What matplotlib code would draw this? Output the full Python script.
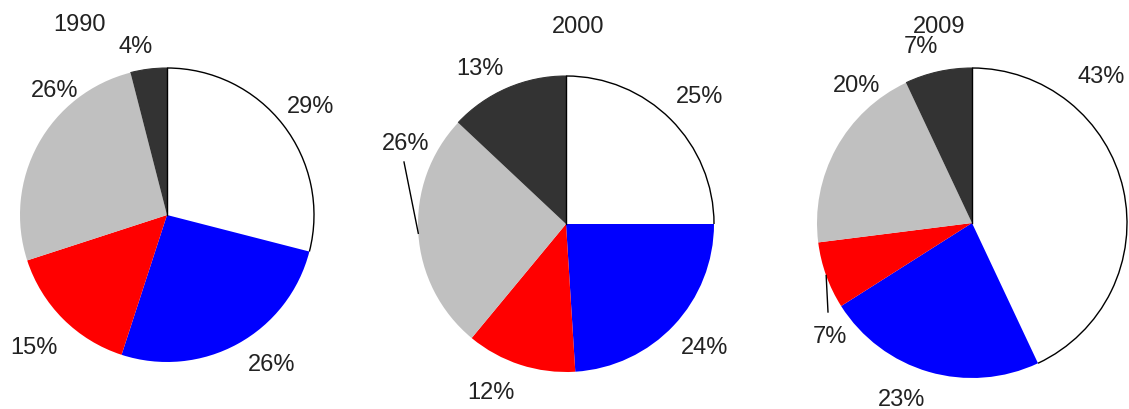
import matplotlib.pyplot as plt
from matplotlib.patches import Arc
import numpy as np

plt.rcParams['font.family'] = ['Liberation Sans', 'DejaVu Sans']

years = ["1990", "2000", "2009"]
# slice order, clockwise from 12 o'clock: white, blue, red, grey, black
shares_1990 = [29, 26, 15, 26, 4]
shares_2000 = [25, 24, 12, 26, 13]
shares_2009 = [43, 23, 7, 20, 7]
all_shares = [shares_1990, shares_2000, shares_2009]

colors = ["#ffffff", "#0000ff", "#ff0000", "#c0c0c0", "#333333"]

W, H = 1129, 410
# layout in pixels (y measured from top)
centers = [(167, 216), (566, 225), (972, 224)]
radii = [147, 148, 155]
title_pos = [(79, 25), (578, 27), (939, 27)]
label_pos = [
    [(311, 107), (272, 365), (34, 348), (55, 91), (136, 47)],
    [(700, 97), (705, 348), (491, 393), (406, 144), (480, 69)],
    [(1101, 77), (902, 400), (830, 337), (857, 86), (921, 47)],
]
# which slice gets a leader line (pie index, slice index)
leaders = [(1, 3), (2, 2)]

fig = plt.figure(figsize=(W / 100, H / 100), dpi=100)
ax = fig.add_axes([0, 0, 1, 1])

txt_color = "#222222"
for i, shares in enumerate(all_shares):
    cx, cy = centers[i]
    wedges, texts = ax.pie(shares, colors=colors, startangle=90, counterclock=False,
                           center=(cx, H - cy), radius=radii[i], frame=True,
                           labels=[f"{v}%" for v in shares],
                           wedgeprops=dict(linewidth=0),
                           textprops=dict(fontsize=17, color=txt_color))
    for t, (lx, ly) in zip(texts, label_pos[i]):
        t.set_position((lx, H - ly))
        t.set_ha("center")
        t.set_va("center")
    # thin black outline along the white slice's rim
    w = wedges[0]
    ax.add_patch(Arc(w.center, 2 * w.r, 2 * w.r, theta1=w.theta1, theta2=w.theta2,
                     color="black", lw=1.0, zorder=3))
    wb = wedges[4]
    ax.add_patch(Arc(wb.center, 2 * wb.r, 2 * wb.r, theta1=wb.theta1, theta2=wb.theta2,
                     color="#333333", lw=0.8, zorder=3))
    # vertical line from centre to 12 o'clock
    ax.plot([cx, cx], [H - cy, H - cy + radii[i]], color="black", lw=1.0, zorder=3)
    ax.text(title_pos[i][0], H - title_pos[i][1], years[i], fontsize=17,
            color=txt_color, ha="center", va="center")

for pi, si in leaders:
    shares = all_shares[pi]
    cx, cy = centers[pi]
    r = radii[pi]
    mid = 90 - 3.6 * (sum(shares[:si]) + shares[si] / 2)
    ex = cx + r * np.cos(np.radians(mid))
    ey = (H - cy) + r * np.sin(np.radians(mid))
    lx, ly = label_pos[pi][si]
    ly = H - ly
    # line goes from the rim toward the label, stopping short of the text
    sy = ly - 19 if ly > ey else ly + 24
    sx = lx - 2
    ax.plot([ex, sx], [ey, sy], color="black", lw=1.0)

ax.set_xlim(0, W)
ax.set_ylim(0, H)
ax.set_aspect("equal")
ax.axis("off")

plt.savefig("out.png", dpi=100)
